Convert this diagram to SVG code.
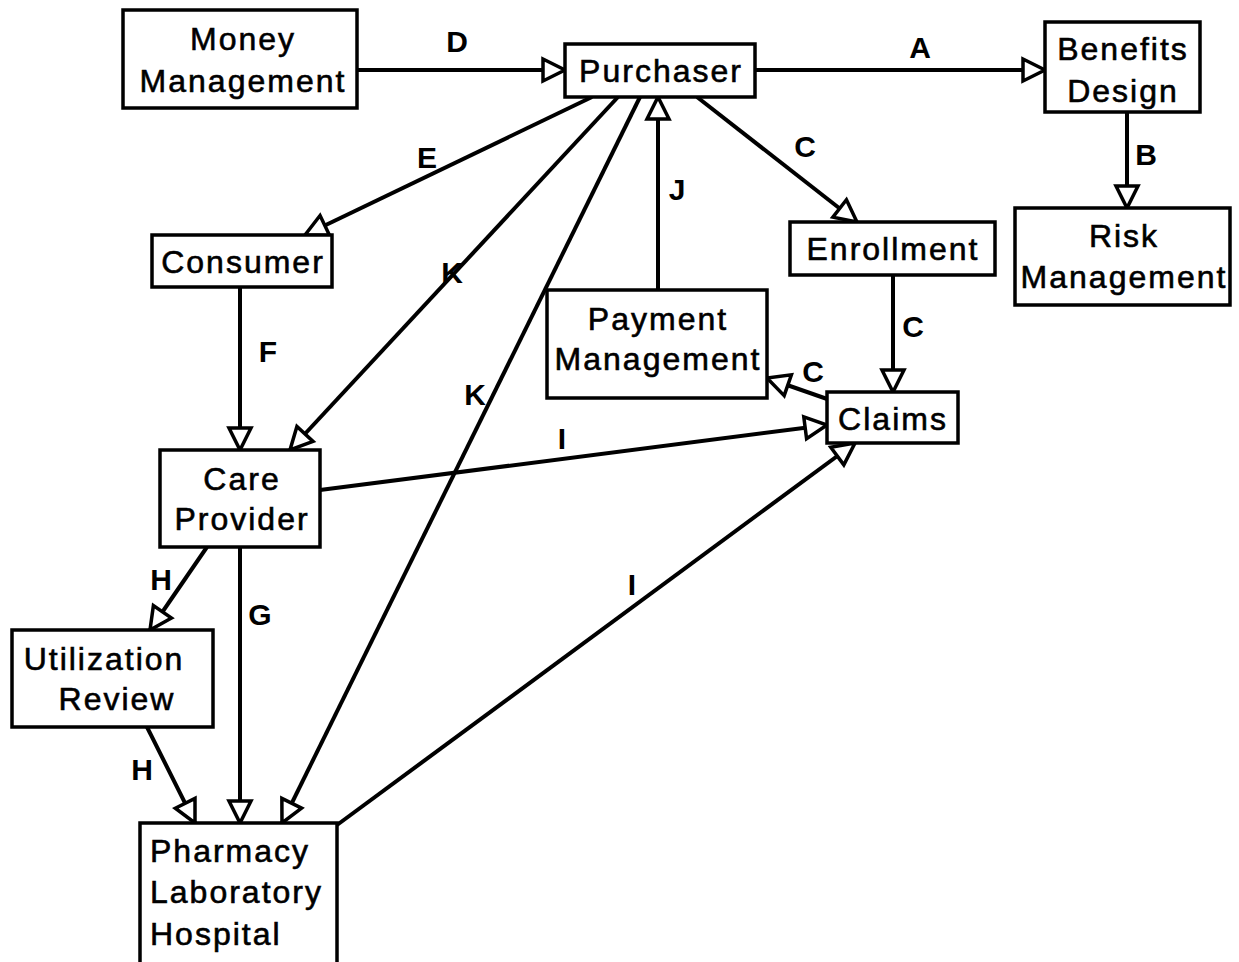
<svg xmlns="http://www.w3.org/2000/svg" width="1239" height="962" viewBox="0 0 1239 962">
<style>
.box{fill:#fff;stroke:#000;stroke-width:3.5}
.t{font-family:"Liberation Sans",Arial,sans-serif;font-size:32px;letter-spacing:2px;fill:#000;stroke:#000;stroke-width:0.6;text-anchor:middle}
.l{font-family:"Liberation Sans",Arial,sans-serif;font-size:30px;font-weight:bold;fill:#000;text-anchor:middle}
.c{stroke:#000;stroke-width:4;fill:none;marker-end:url(#ah)}
</style>
<defs>
<marker id="ah" markerUnits="userSpaceOnUse" markerWidth="28" markerHeight="28" refX="24" refY="12" orient="auto" overflow="visible">
<path d="M2,1 L24,12 L2,23 z" fill="#fff" stroke="#000" stroke-width="3.5" stroke-linejoin="miter"/>
</marker>
</defs>
<rect width="1239" height="962" fill="#fff"/>
<g id="connectors">
<line class="c" x1="357" y1="70" x2="565" y2="70"/>
<line class="c" x1="755" y1="70" x2="1045" y2="70"/>
<line class="c" x1="1127" y1="112" x2="1127" y2="208"/>
<line class="c" x1="697" y1="97" x2="857" y2="222"/>
<line class="c" x1="893" y1="275" x2="893" y2="392"/>
<line class="c" x1="830" y1="400" x2="767" y2="378"/>
<line class="c" x1="592" y1="97" x2="305" y2="235"/>
<line class="c" x1="658" y1="290" x2="658" y2="97"/>
<line class="c" x1="618" y1="97" x2="290" y2="450"/>
<line class="c" x1="640" y1="97" x2="282" y2="823"/>
<line class="c" x1="240" y1="287" x2="240" y2="450"/>
<line class="c" x1="320" y1="490" x2="827" y2="425"/>
<line class="c" x1="337" y1="825" x2="855" y2="443"/>
<line class="c" x1="207" y1="547" x2="150" y2="630"/>
<line class="c" x1="240" y1="547" x2="240" y2="823"/>
<line class="c" x1="147" y1="727" x2="195" y2="823"/>
</g>
<g id="labels">
<text class="l" x="457" y="52">D</text>
<text class="l" x="920" y="58">A</text>
<text class="l" x="1146" y="165">B</text>
<text class="l" x="805" y="157">C</text>
<text class="l" x="913" y="337">C</text>
<text class="l" x="813" y="382">C</text>
<text class="l" x="427" y="168">E</text>
<text class="l" x="677" y="200">J</text>
<text class="l" x="452" y="283">K</text>
<text class="l" x="475" y="405">K</text>
<text class="l" x="268" y="362">F</text>
<text class="l" x="562" y="449">I</text>
<text class="l" x="632" y="595">I</text>
<text class="l" x="161" y="590">H</text>
<text class="l" x="260" y="625">G</text>
<text class="l" x="142" y="780">H</text>
</g>
<g id="money-management">
<rect class="box" x="123" y="10" width="234" height="98"/>
<text class="t" x="243" y="50">Money</text>
<text class="t" x="243" y="92">Management</text>
</g>
<g id="purchaser">
<rect class="box" x="565" y="44" width="190" height="53"/>
<text class="t" x="661" y="82">Purchaser</text>
</g>
<g id="benefits-design">
<rect class="box" x="1045" y="22" width="155" height="90"/>
<text class="t" x="1123" y="60">Benefits</text>
<text class="t" x="1123" y="102">Design</text>
</g>
<g id="risk-management">
<rect class="box" x="1015" y="208" width="215" height="97"/>
<text class="t" x="1124" y="247">Risk</text>
<text class="t" x="1124" y="288">Management</text>
</g>
<g id="consumer">
<rect class="box" x="152" y="235" width="180" height="52"/>
<text class="t" x="243" y="273">Consumer</text>
</g>
<g id="enrollment">
<rect class="box" x="790" y="222" width="205" height="53"/>
<text class="t" x="893" y="260">Enrollment</text>
</g>
<g id="payment-management">
<rect class="box" x="547" y="290" width="220" height="108"/>
<text class="t" x="658" y="330">Payment</text>
<text class="t" x="658" y="370">Management</text>
</g>
<g id="claims">
<rect class="box" x="827" y="392" width="131" height="51"/>
<text class="t" x="893" y="430">Claims</text>
</g>
<g id="care-provider">
<rect class="box" x="160" y="450" width="160" height="97"/>
<text class="t" x="242" y="490">Care</text>
<text class="t" x="242" y="530">Provider</text>
</g>
<g id="utilization-review">
<rect class="box" x="12" y="630" width="201" height="97"/>
<text class="t" x="104" y="670">Utilization</text>
<text class="t" x="117" y="710">Review</text>
</g>
<g id="pharmacy-laboratory-hospital">
<rect class="box" x="140" y="823" width="197" height="160"/>
<text class="t" x="150" y="862" style="text-anchor:start">Pharmacy</text>
<text class="t" x="150" y="903" style="text-anchor:start">Laboratory</text>
<text class="t" x="150" y="945" style="text-anchor:start">Hospital</text>
</g>
</svg>
